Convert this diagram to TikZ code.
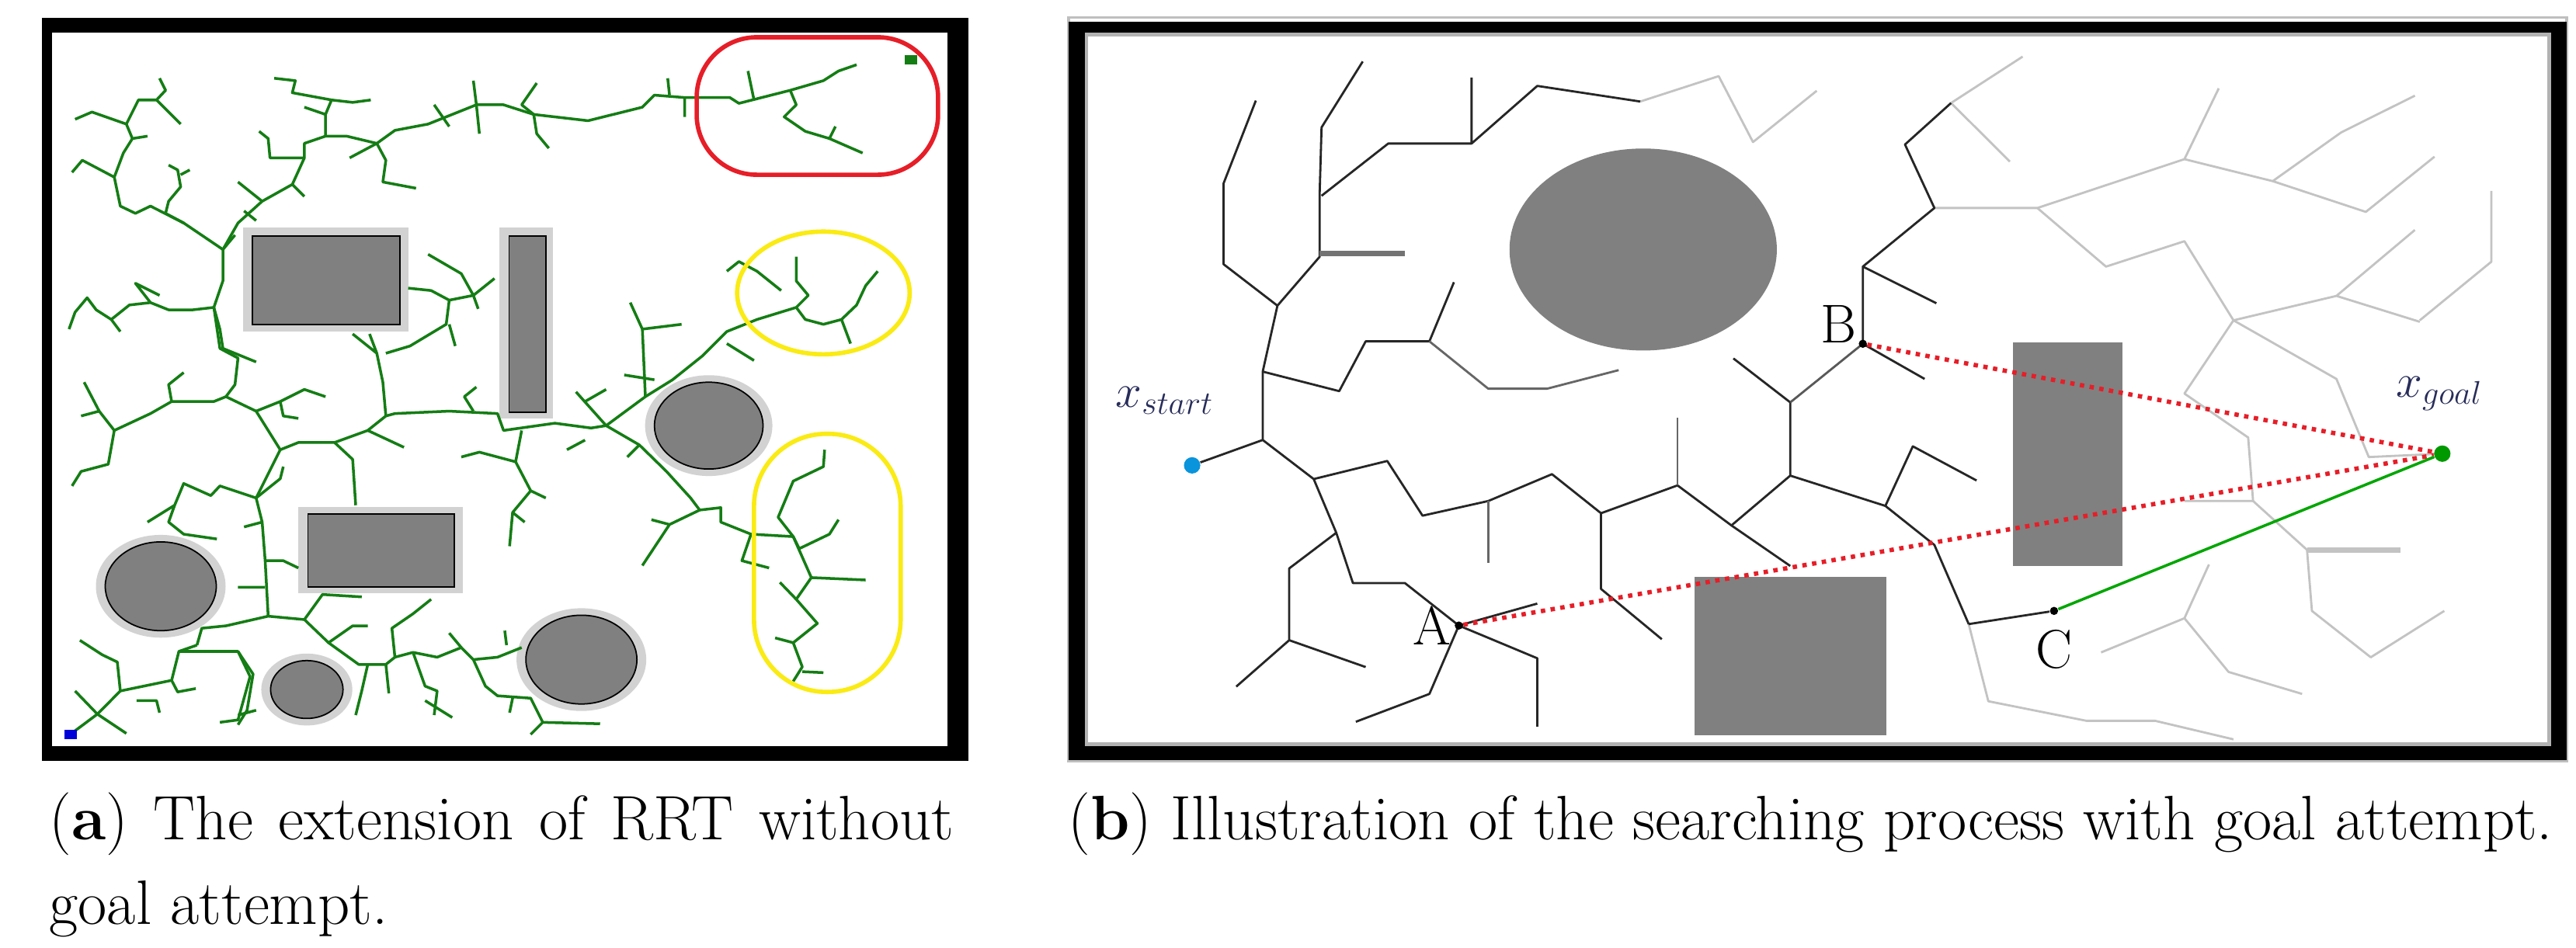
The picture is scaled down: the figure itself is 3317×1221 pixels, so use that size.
\documentclass[tikz,border=0pt]{standalone}
\usepackage{amsmath}
\usetikzlibrary{positioning}
\definecolor{mygreen}{RGB}{20,125,20}
\definecolor{mygrey}{RGB}{128,128,128}
\definecolor{myhalo}{RGB}{210,210,210}
\definecolor{mylight}{RGB}{195,195,195}
\definecolor{myred}{RGB}{230,30,40}
\definecolor{myyellow}{RGB}{250,235,20}
\definecolor{mylabel}{RGB}{40,45,90}
\begin{document}
\begin{tikzpicture}[x=0.01cm,y=-0.01cm,
    treea/.style={draw=mygreen,line width=1pt,line join=round},
    treeb/.style={draw=black!85,line width=0.8pt,line join=round},
    treec/.style={draw=mylight,line width=0.8pt,line join=round},
    obst/.style={fill=mygrey,draw=black,line width=0.5pt},
    halo/.style={fill=myhalo},
    pt/.style={circle,fill=black,inner sep=0pt,minimum size=3pt},
    lab/.style={font=\fontsize{20}{22}\selectfont,inner sep=1pt},
    capt/.style={font=\fontsize{23}{31}\selectfont,inner sep=0pt,anchor=north west},
  ]
  \useasboundingbox (0,0) rectangle (3317,1221);
  % panel (a)
  \begin{scope}[xshift=0.5cm,yshift=-0.2cm,x=0.00777cm,y=-0.00621cm]
    \fill[black] (5,5) rectangle (1540,1545);
    \fill[white] (22,35) rectangle (1505,1515);
    % obstacles
    \fill[halo] (338,440) rectangle (612,655);
    \draw[obst] (354,457) rectangle (598,640);
    \fill[halo] (763,440) rectangle (852,835);
    \draw[obst] (779,457) rectangle (840,822);
    \fill[halo] (430,1018) rectangle (702,1198);
    \draw[obst] (446,1033) rectangle (688,1185);
    \foreach \cx/\cy/\r in {1110/850/90,202/1183/92,444/1397/60,899/1335/92}{
      \fill[halo] (\cx,\cy) ellipse ({\r*0.00777cm+0.12cm} and {\r*0.00621cm+0.09cm});
      \draw[obst] (\cx,\cy) ellipse ({\r*0.00777cm} and {\r*0.00621cm});
    }
    % tree
    \draw[treea] (52,1490)--(97,1448)--(135,1400)--(130,1340)--(105,1325)--(68,1295);
    \draw[treea] (97,1448)--(60,1400) (97,1448)--(145,1488);
    \draw[treea] (135,1400)--(220,1378)--(232,1318)--(262,1305) (220,1378)--(230,1402)--(260,1395);
    \draw[treea] (162,1420)--(195,1420)--(200,1445);
    \draw[treea] (232,1318)--(330,1318)--(350,1370)--(330,1460)--(300,1465);
    \draw[treea] (262,1305)--(270,1270)--(310,1265)--(380,1245)--(440,1252)--(470,1200)--(535,1205);
    \draw[treea] (380,1245)--(375,1130)--(370,1050)--(360,1000)--(400,900)--(430,885)--(490,885)--(520,920)--(525,1015);
    \draw[treea] (490,885)--(545,860)--(575,830)--(590,825)--(680,820)--(760,825)--(770,860)--(855,845)--(915,855)--(940,850)--(1005,790)--(1050,755)--(1100,705)--(1140,655)--(1190,630)--(1255,605)--(1275,580)--(1255,550)--(1255,500);
    \draw[treea] (1255,605)--(1270,630)--(1300,640)--(1330,630)--(1355,600)--(1370,560)--(1390,530) (1330,630)--(1345,680);
    \draw[treea] (1230,570)--(1190,530)--(1160,510)--(1140,530) (1140,680)--(1185,715) (545,860)--(605,895);
    \draw[treea] (940,850)--(995,890)--(1040,945)--(1080,1000)--(1095,1025)--(1130,1020)--(1130,1050)--(1180,1075)--(1250,1080)--(1280,1165)--(1255,1210)--(1290,1260)--(1250,1300)--(1265,1350)--(1250,1380);
    \draw[treea] (1095,1025)--(1045,1055)--(1000,1140) (1045,1055)--(1015,1045);
    \draw[treea] (1250,1080)--(1260,1105)--(1310,1075)--(1325,1045) (1280,1165)--(1370,1170);
    \draw[treea] (1250,1080)--(1225,1040)--(1250,965)--(1300,935)--(1302,900);
    \draw[treea] (1255,1210)--(1228,1175) (1250,1300)--(1220,1290) (1265,1360)--(1300,1362);
    \draw[treea] (1180,1075)--(1165,1130)--(1210,1145) (995,890)--(975,915);
    \draw[treea] (905,880)--(875,900) (940,850)--(890,780) (905,800)--(940,775);
    \draw[treea] (800,860)--(790,925)--(815,985)--(785,1030)--(780,1100) (790,925)--(730,905)--(700,915) (815,985)--(840,1000) (785,1030)--(805,1050);
    \draw[treea] (1005,790)--(1000,650)--(980,595) (1000,650)--(1065,640) (1020,755)--(970,745);
    \draw[treea] (575,830)--(570,760)--(560,700)--(520,660) (560,700)--(548,660);
    \draw[treea] (575,700)--(615,685)--(675,640)--(680,590)--(720,580)--(755,545) (680,640)--(690,685);
    \draw[treea] (680,590)--(650,570)--(612,565) (720,580)--(700,535)--(645,495) (720,580)--(728,608);
    \draw[treea] (720,820)--(705,790)--(725,770);
    \draw[treea] (400,900)--(360,820)--(310,790)--(290,800)--(220,800)--(185,825)--(125,860)--(115,930)--(70,945)--(55,975);
    \draw[treea] (125,860)--(100,820)--(75,760) (100,820)--(70,830) (220,800)--(215,765)--(240,740);
    \draw[treea] (360,820)--(400,800)--(440,775)--(475,790) (400,800)--(405,830)--(430,835);
    \draw[treea] (310,790)--(325,765)--(330,710)--(300,690)--(290,605)--(305,550)--(305,485)--(240,430)--(185,395)--(160,410)--(135,395)--(125,335)--(72,300)--(55,325);
    \draw[treea] (125,335)--(140,285)--(155,255)--(145,225)--(88,200)--(60,215) (155,255)--(180,250);
    \draw[treea] (145,225)--(165,175)--(195,175)--(210,155)--(200,130) (195,175)--(235,225);
    \draw[treea] (305,485)--(330,430)--(370,385)--(420,350)--(440,295)--(440,265)--(475,250)--(510,250)--(560,265)--(590,238)--(645,225)--(725,185)--(770,185)--(820,205)--(910,218)--(1000,190)--(1020,165)--(1070,170)--(1145,170)--(1160,182)--(1245,155)--(1300,135)--(1325,115)--(1355,102);
    \draw[treea] (1245,155)--(1255,185)--(1235,210)--(1270,240)--(1310,255)--(1365,285) (1310,255)--(1320,230);
    \draw[treea] (1185,175)--(1175,115) (1070,170)--(1070,210) (1045,165)--(1042,130);
    \draw[treea] (820,205)--(825,245)--(845,275) (820,205)--(800,185)--(825,140) (725,185)--(720,135) (725,185)--(730,245);
    \draw[treea] (475,250)--(475,205)--(485,175)--(420,160)--(425,135)--(390,130) (485,175)--(520,180)--(550,175) (475,205)--(440,190);
    \draw[treea] (440,295)--(383,295)--(380,255)--(365,240) (560,265)--(575,300)--(570,345)--(625,358) (655,185)--(680,230) (560,265)--(515,295);
    \draw[treea] (370,385)--(330,345) (420,350)--(440,375) (340,405)--(360,425) (325,455)--(305,485);
    \draw[treea] (290,605)--(255,610)--(215,610)--(185,595)--(150,600)--(120,630)--(95,610)--(80,585)--(60,615)--(50,650) (120,630)--(135,655);
    \draw[treea] (185,595)--(160,555)--(200,580) (290,605)--(300,650)--(305,690) (305,690)--(360,718);
    \draw[treea] (240,430)--(210,410)--(215,385)--(235,355)--(230,320)--(215,310) (235,330)--(250,320);
    \draw[treea] (360,1000)--(300,975)--(285,995)--(240,970)--(225,1015)--(215,1050)--(240,1075)--(295,1085) (225,1015)--(180,1050);
    \draw[treea] (360,1000)--(400,960)--(405,935) (375,1130)--(405,1130)--(430,1145) (375,1185)--(330,1185) (370,1050)--(340,1060);
    \draw[treea] (440,1252)--(480,1300)--(520,1265)--(545,1265);
    \draw[treea] (480,1300)--(530,1345)--(575,1345)--(590,1330)--(620,1320)--(660,1330)--(700,1310)--(720,1335)--(760,1330)--(800,1310);
    \draw[treea] (575,1345)--(580,1405) (590,1330)--(585,1270)--(620,1240)--(650,1210) (620,1320)--(640,1390)--(660,1400)--(655,1450) (640,1420)--(685,1455);
    \draw[treea] (720,1335)--(740,1390)--(760,1410)--(815,1415)--(835,1465)--(930,1468) (835,1465)--(815,1490) (785,1415)--(780,1445);
    \draw[treea] (545,1345)--(535,1400)--(525,1450) (700,1310)--(680,1280) (775,1305)--(772,1275);
    \draw[treea] (330,1318)--(355,1365)--(345,1440)--(330,1470) (360,1440)--(330,1450);
    % marks
    \draw[myred,line width=1.6pt,rounded corners=22pt] (1090,45) rectangle (1490,330);
    \draw[myyellow,line width=1.6pt] (1300,575) ellipse (1.11cm and 0.79cm);
    \draw[myyellow,line width=1.6pt,rounded corners=0.93cm] (1185,867) rectangle (1428,1402);
    \fill[mygreen] (1435,82) rectangle (1455,102);
    \fill[blue!85!black] (43,1480) rectangle (63,1500);
  \end{scope}
  % panel (b)
  \begin{scope}[xshift=13.6cm,yshift=-0.1cm,x=0.01262cm,y=-0.00628cm]
    \draw[black!25,line width=1pt] (12,20) rectangle (1540,1542);
    \fill[black] (12,28) rectangle (1540,1540);
    \fill[white] (30,55) rectangle (1522,1508);
    \draw[black!30,line width=1.2pt] (30,55) rectangle (1522,1508);
    \fill[mygrey] (598,495) ellipse (1.72cm and 1.3cm);
    \fill[mygrey] (975,685) rectangle (1087,1143);
    \fill[mygrey] (650,1165) rectangle (846,1490);
    % light tree
    \draw[treec] (895,410)--(1000,410)--(1150,310)--(1185,165) (912,195)--(985,100) (912,195)--(972,315);
    \draw[treec] (595,192)--(675,140)--(710,275)--(775,170);
    \draw[treec] (1000,410)--(1070,530)--(1150,478)--(1200,640)--(1305,590)--(1385,455) (1305,590)--(1390,643);
    \draw[treec] (1200,640)--(1150,790)--(1215,880)--(1220,1010)--(1150,1010);
    \draw[treec] (1200,640)--(1305,760)--(1338,920)--(1413,913);
    \draw[treec] (1150,310)--(1240,355)--(1310,255)--(1385,180) (1240,355)--(1335,418)--(1405,305);
    \draw[treec] (1463,375)--(1463,520)--(1390,640);
    \draw[treec] (1220,1010)--(1275,1110)--(1280,1235)--(1340,1330)--(1415,1235);
    \draw[treec,line width=2pt] (1275,1110)--(1370,1110);
    \draw[treec] (1065,1320)--(1150,1250)--(1195,1360)--(1270,1405) (1150,1250)--(1175,1140);
    \draw[treec] (930,1262)--(950,1420)--(1050,1460)--(1120,1460)--(1200,1498);
    % dark tree
    \draw[treeb] (210,885)--(210,745)--(225,610)--(268,510)--(268,385)--(270,245)--(312,110);
    \draw[treeb] (225,610)--(170,525)--(170,360)--(203,190);
    \draw[treeb] (270,385)--(338,278)--(423,278)--(423,143) (423,278)--(490,160)--(595,192);
    \draw[treeb,draw=black!55,line width=2pt] (268,503)--(355,503);
    \draw[treeb] (210,745)--(288,785)--(315,683)--(380,683)--(405,562);
    \draw[treeb,draw=black!60] (380,683)--(440,780)--(500,780)--(573,742);
    \draw[treeb] (210,885)--(262,965)--(337,928)--(373,1040)--(440,1010)--(505,955)--(555,1035)--(633,978);
    \draw[treeb,draw=black!60] (633,978)--(633,840) (440,1010)--(440,1137);
    \draw[treeb] (555,1035)--(555,1190)--(617,1293) (633,978)--(688,1060)--(748,1143);
    \draw[treeb] (688,1060)--(748,958)--(748,808)--(690,718);
    \draw[treeb,draw=black!65] (748,808)--(822,688);
    \draw[treeb] (822,688)--(822,530)--(895,410)--(865,280)--(912,195);
    \draw[treeb] (822,688)--(885,760) (822,530)--(897,605);
    \draw[treeb] (748,958)--(845,1020)--(873,898)--(938,968);
    \draw[treeb] (845,1020)--(895,1100)--(930,1262);
    \draw[treeb] (262,965)--(285,1075)--(237,1148)--(237,1295)--(183,1390) (237,1295)--(315,1350);
    \draw[treeb] (285,1075)--(302,1178)--(355,1178)--(410,1265)--(490,1220);
    \draw[treeb] (410,1265)--(490,1332)--(490,1472) (410,1265)--(380,1405)--(305,1462);
    % key points
    \node[pt,fill=cyan!80!blue,minimum size=6pt] (xs) at (138,937) {};
    \node[pt,fill=green!60!black,minimum size=6pt] (xg) at (1413,913) {};
    \node[pt] (pa) at (410,1265) {};
    \node[pt] (pb) at (822,688) {};
    \node[pt] (pc) at (1017,1235) {};
    \draw[treeb] (xs)--(210,885);
    \draw[treeb] (930,1262)--(pc);
    \draw[myred,line width=1.6pt,dotted] (pb)--(xg);
    \draw[myred,line width=1.6pt,dotted] (pa)--(xg);
    \draw[green!65!black,line width=1pt] (pc)--(xg);
    \node[lab,left=0pt of pa] {A};
    \node[lab,above left=-2pt and 0pt of pb] {B};
    \node[lab,below=4pt of pc] {C};
    \node[lab,text=mylabel,font=\fontsize{18}{20}\selectfont] at (110,805) {$x_{start}$};
    \node[lab,text=mylabel,font=\fontsize{18}{20}\selectfont] at (1410,790) {$x_{goal}$};
  \end{scope}
  % captions
  \node[capt,text width=11.64cm,align=justify] (capa) at (63,1020)
    {(\textbf{a}) The extension of RRT without\linebreak goal attempt.};
  \node[capt] (capb) at (1375,1020)
    {(\textbf{b}) Illustration of the searching process with goal attempt.};
\end{tikzpicture}
\end{document}
